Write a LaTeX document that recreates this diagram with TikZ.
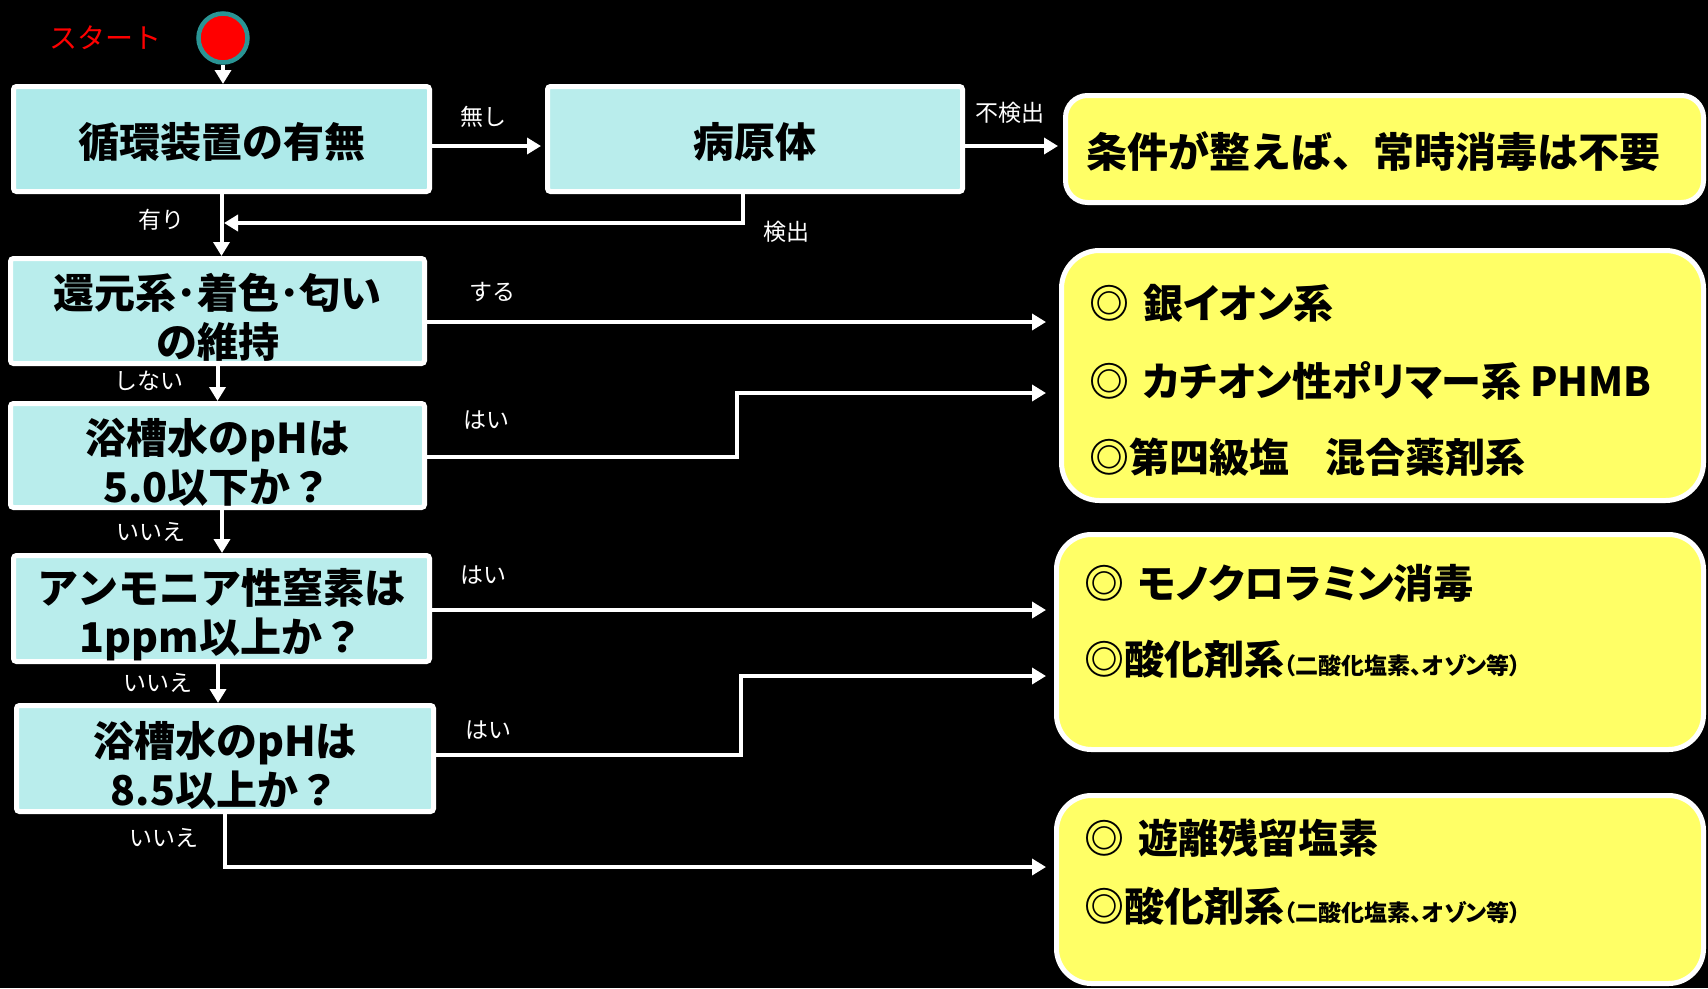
\documentclass[tikz,border=0pt]{standalone}
\usepackage{fontspec}
\newfontfamily\jp{Noto Sans CJK JP}
\newfontfamily\jpp{Noto Sans CJK JP}[RawFeature=+palt]
\usetikzlibrary{arrows.meta}
\definecolor{boxA}{HTML}{AEEAEA}
\definecolor{boxB}{HTML}{B9EDEC}
\definecolor{yel}{HTML}{FFFF66}
\definecolor{ring}{HTML}{2A9494}
\newcommand{\uprule}[1]{\rule{0pt}{#1}}
\tikzset{
  qbox/.style={draw=white, line width=5pt, fill=boxB, rounded corners=3pt, align=center, inner sep=0pt, text=black, font=\jp\bfseries\fontsize{41}{49}\selectfont},
  ybox/.style={draw=white, line width=5pt, fill=yel, rounded corners=#1, inner sep=0pt},
  lbl/.style={text=white, inner sep=0pt, font=\jp\fontsize{23}{26}\selectfont},
  ytxt/.style={anchor=west, inner sep=0pt, text=black, font=\jpp\bfseries\fontsize{40}{44}\selectfont},
  conn/.style={draw=white, line width=4pt, -{Triangle[length=14pt,width=16pt]}},
}
\begin{document}
\begin{tikzpicture}[x=1pt,y=-1pt]
\fill[black] (0,0) rectangle (1708,988);
\useasboundingbox (0,0) rectangle (1708,988);

% start
\node[circle, fill=red, draw=ring, line width=4.5pt, minimum size=49pt, inner sep=0pt] (start) at (223,38) {};
\node[text=red, inner sep=0pt, font=\jp\fontsize{28}{30}\selectfont] (stlbl) at (105,38) {スタート};

% question boxes
\node[qbox, fill=boxA, minimum width=416pt, minimum height=105pt] (b1) at (221.5,139) {\uprule{41pt}循環装置の有無};
\node[qbox, minimum width=415pt, minimum height=105pt] (b2) at (755,139) {\uprule{41pt}病原体};
\node[qbox, minimum width=414pt, minimum height=105pt] (b3) at (217.5,311) {\uprule{48pt}還元系･着色･匂い\\の維持};
\node[qbox, minimum width=414pt, minimum height=104pt] (b4) at (217.5,455.5) {\uprule{48pt}浴槽水のpHは\\5.0以下か？};
\node[qbox, minimum width=416pt, minimum height=106pt] (b5) at (221.5,608.5) {\uprule{48pt}アンモニア性窒素は\\1ppm以上か？};
\node[qbox, minimum width=417pt, minimum height=106pt] (b6) at (225,758.5) {\uprule{48pt}浴槽水のpHは\\8.5以上か？};

% result boxes
\node[ybox=22pt, minimum width=638pt, minimum height=107pt] (y1) at (1384.5,149) {};
\node[ytxt, font=\jp\bfseries\fontsize{41}{44}\selectfont] (y1t) at (1086,152) {条件が整えば、常時消毒は不要};

\node[ybox=38pt, minimum width=642pt, minimum height=250pt] (y2) at (1382.5,375.5) {};
\node[ytxt] (y2a) at (1089,303) {◎\hspace{0.35em}銀イオン系};
\node[ytxt] (y2b) at (1089,381) {◎\hspace{0.35em}カチオン性ポリマー系 PHMB};
\node[ytxt] (y2c) at (1089,457) {◎第四級塩\hspace{0.9em}混合薬剤系};

\node[ybox=35pt, minimum width=647pt, minimum height=215pt] (y3) at (1380,642) {};
\node[ytxt] (y3a) at (1084,583) {◎\hspace{0.35em}モノクロラミン消毒};
\node[ytxt] (y3b) at (1084,659) {◎酸化剤系{\fontsize{23}{26}\selectfont（二酸化塩素、オゾン等）}};

\node[ybox=35pt, minimum width=647pt, minimum height=188pt] (y4) at (1380,889.5) {};
\node[ytxt] (y4a) at (1084,838) {◎\hspace{0.35em}遊離残留塩素};
\node[ytxt] (y4b) at (1084,906) {◎酸化剤系{\fontsize{23}{26}\selectfont（二酸化塩素、オゾン等）}};

% free ends / bends
\coordinate (t0) at (541,146);
\coordinate (t1) at (1058,146);
\coordinate (fb) at (224,223);
\coordinate (e1) at (1046,322);
\coordinate (k2) at (737,457);
\coordinate (e2) at (1046,393);
\coordinate (e3) at (1046,610);
\coordinate (k4) at (741,755);
\coordinate (e4) at (1046,676);
\coordinate (e5) at (1046,867);

% connectors
\draw[conn] (start) -- (start |- b1.north);
\draw[conn] (b1.east |- t0) -- (t0);
\draw[conn] (b2.east |- t1) -- (t1);
\draw[conn] (b1.south) -- (b1.south |- b3.north);
\draw[conn] ([xshift=-12pt]b2.south) |- (fb);
\draw[conn] (b3.east |- e1) -- (e1);
\draw[conn] (b3.south) -- (b3.south |- b4.north);
\draw[conn] (b4.east |- k2) -- (k2) |- (e2);
\draw[conn] ([xshift=4.5pt]b4.south) -- ([xshift=4.5pt]b4.south |- b5.north);
\draw[conn] (b5.east |- e3) -- (e3);
\draw[conn] ([xshift=-3.5pt]b5.south) -- ([xshift=-3.5pt]b5.south |- b6.north);
\draw[conn] (b6.east |- k4) -- (k4) |- (e4);
\draw[conn] (b6.south) |- (e5);

% labels
\node[lbl] (l1) at (483,117) {無し};
\node[lbl] (l2) at (1010,113) {不検出};
\node[lbl] (l3) at (786,232) {検出};
\node[lbl] (l4) at (161,220) {有り};
\node[lbl] (l5) at (492,292) {する};
\node[lbl] (l6) at (149,381) {しない};
\node[lbl] (l7) at (486,420) {はい};
\node[lbl] (l8) at (151,532) {いいえ};
\node[lbl] (l9) at (483,575) {はい};
\node[lbl] (l10) at (158,683) {いいえ};
\node[lbl] (l11) at (488,730) {はい};
\node[lbl] (l12) at (164,838) {いいえ};
\end{tikzpicture}
\end{document}
